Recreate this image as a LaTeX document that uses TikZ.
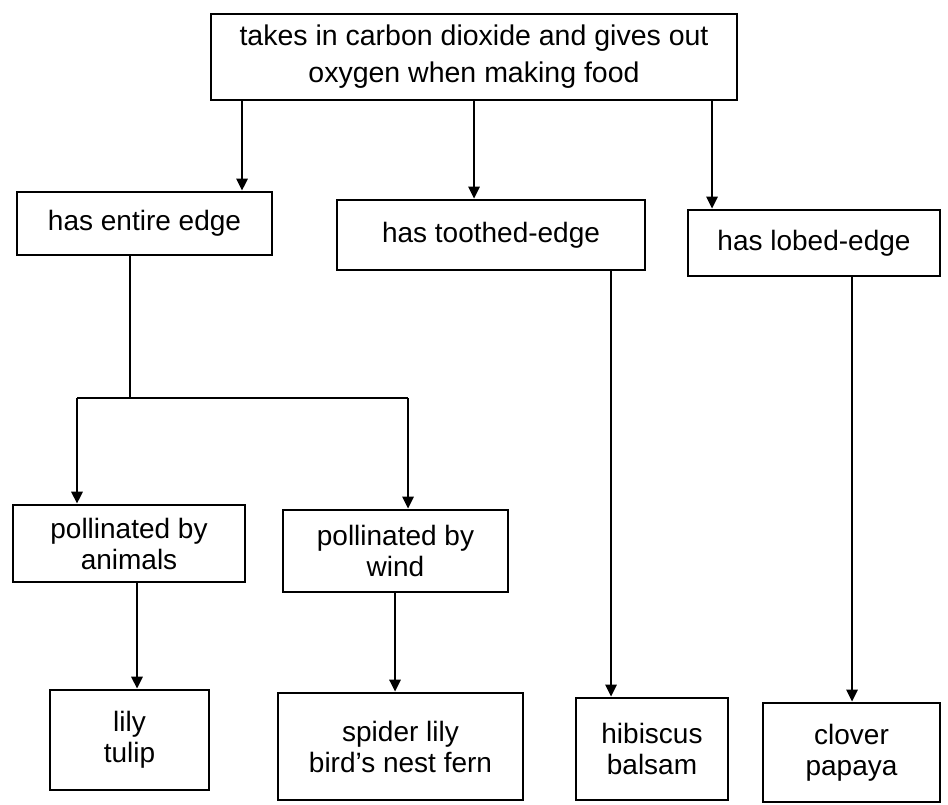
\documentclass[tikz,border=0pt]{standalone}
\usepackage{fontspec}
\setmainfont{Liberation Sans}
\usetikzlibrary{arrows.meta}
\tikzset{
  box/.style={draw=black, line width=2.6pt, rectangle, inner sep=0pt, align=center,
    font=\fontsize{28}{31}\selectfont},
  topbox/.style={box, font=\fontsize{28.5}{37}\selectfont},
  conn/.style={draw=black, line width=2.6pt},
  arr/.style={conn, -{Triangle[length=12pt,width=11pt]}}
}
\begin{document}
\begin{tikzpicture}[x=1pt,y=-1pt]
\useasboundingbox (0,0) rectangle (948,804);
\node[topbox, minimum width=526pt, minimum height=86pt] (top) at (474,57) {takes in carbon dioxide and gives out\\oxygen when making food};
\node[box, minimum width=255pt, minimum height=63pt] (entire) at (144.5,223.5) {has entire edge};
\node[box, minimum width=308pt, minimum height=70pt] (toothed) at (491,235) {has toothed-edge};
\node[box, minimum width=252pt, minimum height=66pt] (lobed) at (814,243) {has lobed-edge};
\node[box, minimum width=232pt, minimum height=77pt] (animals) at (129,543.5) {pollinated by\\animals};
\node[box, minimum width=225pt, minimum height=82pt] (wind) at (395.5,551) {pollinated by\\wind};
\node[box, minimum width=159pt, minimum height=100pt] (lily) at (129.5,740) {lily\\tulip};
\node[box, minimum width=245pt, minimum height=107pt] (spider) at (400.5,746.5) {spider lily\\bird's nest fern};
\node[box, minimum width=152pt, minimum height=102pt] (hibiscus) at (652,749) {hibiscus\\balsam};
\node[box, minimum width=177pt, minimum height=99pt] (clover) at (851.5,752.5) {clover\\papaya};

\draw[arr] (top.south -| 242,0) -- (entire.north -| 242,0);
\draw[arr] (top.south -| 474,0) -- (toothed.north -| 474,0);
\draw[arr] (top.south -| 712,0) -- (lobed.north -| 712,0);

\coordinate (split) at (130,398);
\coordinate (bl) at (77,398);
\coordinate (br) at (408,398);
\draw[conn] (entire.south -| split) -- (split);
\draw[conn] (bl) -- (br);
\draw[arr] (bl) -- (animals.north -| bl);
\draw[arr] (br) -- (wind.north -| br);

\draw[arr] (animals.south -| 137,0) -- (lily.north -| 137,0);
\draw[arr] (wind.south -| 395,0) -- (spider.north -| 395,0);
\draw[arr] (toothed.south -| 611,0) -- (hibiscus.north -| 611,0);
\draw[arr] (lobed.south -| 852,0) -- (clover.north -| 852,0);
\end{tikzpicture}
\end{document}
